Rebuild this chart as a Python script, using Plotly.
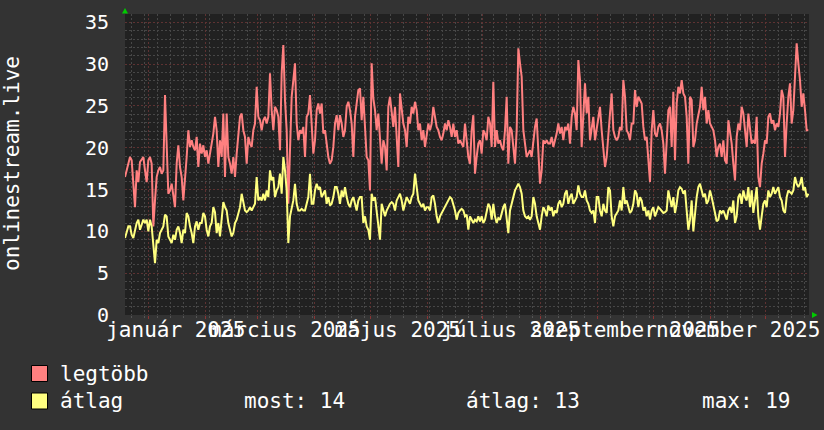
import plotly.graph_objects as go
import pandas as pd

# ---- data ----
legtobb = [
    16.5, 17.3, 18.3, 18.9, 18.5, 15.3, 12.9, 17.3, 15.9, 18.3, 18.7, 18.9, 17.3, 15.9, 18.5, 18.9, 18.1, 10.6, 13.7, 16.5,
    17.3, 17.7, 16.9, 17.3, 26.3, 20.9, 14.5, 14.9, 15.7, 14.3, 12.9, 18.1, 20.3, 17.7, 16.5, 13.7, 16.1, 18.9, 22.1, 20.1,
    20.9, 20.1, 19.7, 21.3, 17.7, 20.5, 19.3, 20.3, 18.9, 19.7, 18.1, 19.1, 20.5, 21.7, 23.7, 22.1, 17.7, 20.9, 18.9, 24.1,
    16.5, 24.1, 18.9, 18.1, 16.9, 18.9, 16.5, 19.3, 22.1, 23.7, 24.1, 22.1, 21.3, 18.1, 21.3, 20.5, 20.1, 22.1, 22.9, 27.3,
    23.7, 23.3, 22.1, 23.3, 23.7, 22.9, 23.7, 28.9, 24.5, 22.1, 24.9, 24.5, 23.7, 19.7, 28.9, 32.3, 25.7, 22.1, 13.3,
    20.1, 26.1, 28.1, 30.1, 22.9, 20.9, 22.1, 21.7, 22.5, 18.9, 23.7, 24.1, 26.3, 22.1, 19.3, 20.9, 24.5, 25.3, 24.1, 25.3,
    21.7, 22.1, 20.5, 18.9, 18.1, 18.5, 20.1, 22.9, 23.9, 22.1, 23.9, 22.9, 21.3, 22.1, 24.9, 25.5, 24.5, 22.9, 18.9, 23.7,
    25.3, 26.9, 27.1, 23.3, 26.1, 22.5, 18.9, 18.5, 14.9, 30.1, 25.9, 24.5, 22.1, 24.1, 21.1, 18.1, 20.9, 20.1, 17.3, 24.9,
    26.1, 24.1, 22.5, 24.9, 20.5, 17.7, 26.5, 24.5, 22.9, 22.1, 20.1, 23.7, 22.9, 24.9, 24.1, 25.5, 24.5, 22.1, 22.9, 20.9,
    22.1, 20.1, 21.7, 22.9, 22.1, 22.9, 24.9, 23.7, 22.5, 22.1, 21.3, 20.9, 21.7, 22.9, 22.1, 23.3, 22.5, 21.3, 22.9, 21.3,
    22.1, 20.5,
    20.9, 20.5, 20.1, 22.9, 20.9, 18.9, 18.1, 22.1, 23.9, 16.9, 18.9, 20.5, 20.9, 19.3, 22.1, 21.7, 20.9, 23.7, 22.9, 20.1,
    27.9, 20.1, 22.1, 20.5, 20.9, 20.1, 19.7, 22.1, 26.1, 18.1, 22.5, 22.1, 20.1, 18.1, 22.1, 31.9, 30.1, 28.5, 22.1, 20.1,
    18.9, 19.3, 19.7, 18.9, 20.9, 22.5, 23.5, 20.1, 15.7, 17.3, 20.9, 20.5, 20.9, 20.5, 20.5, 21.3, 20.1, 20.9, 21.7, 22.9,
    21.7, 22.5, 20.9, 22.5, 22.1, 22.9, 20.5, 23.7, 24.9, 24.1, 22.1, 30.5, 28.1, 20.1, 24.1, 27.7, 24.1, 26.1, 20.9, 22.1,
    23.7, 20.9, 22.1, 23.7, 24.9, 22.1, 19.7, 17.7, 18.9, 22.1, 24.1, 26.5, 22.1, 21.3, 20.9, 21.3, 22.5, 22.1, 28.1, 26.1,
    22.1, 21.7,
    20.9, 22.9, 22.9, 26.9, 24.9, 26.1, 25.7, 25.3, 22.5, 20.9, 21.3, 18.1, 15.9, 22.1, 24.5, 21.7, 21.3, 22.5, 22.9, 22.1,
    20.5, 16.9, 20.9, 24.5, 24.9, 20.1, 26.7, 18.5, 25.3, 27.3, 26.5, 28.1, 26.5, 26.1, 23.7, 18.1, 26.1, 25.7, 20.1, 20.9,
    22.9, 24.1, 24.9, 27.3, 24.5, 26.1, 22.9, 24.5, 22.9, 22.5, 22.1, 20.9, 18.9, 20.1, 20.5, 18.9, 20.9, 18.5, 18.1, 23.3,
    22.1, 20.5, 18.1, 16.1, 21.3, 22.9, 22.1, 24.9, 24.1, 22.1, 20.1, 24.1, 22.1, 20.5, 20.9, 20.5, 23.7, 16.5, 15.3, 18.1,
    19.3, 20.9, 20.5, 23.7, 24.1, 22.9, 23.3, 22.1, 22.9, 22.5, 24.1, 26.9, 26.1, 18.9, 22.9, 26.1, 27.7, 22.9, 24.5, 28.5,
    32.5, 30.1, 28.1, 24.9, 26.5, 24.5, 22.1, 22.1,
]

atlag = [
    9.2, 9.8, 10.6, 10.6, 9.6, 9.2, 10.0, 11.0, 11.4, 10.2, 10.8, 11.4, 11.0, 11.4, 10.0, 11.4, 10.6, 8.6, 6.2, 9.0,
    8.6, 9.8, 10.2, 10.6, 12.0, 11.8, 9.4, 9.0, 8.6, 9.6, 9.0, 10.2, 10.6, 9.8, 8.6, 10.2, 9.8, 12.2, 11.8, 10.6,
    9.8, 8.6, 10.6, 11.2, 10.2, 11.0, 11.0, 12.2, 11.8, 10.2, 9.4, 10.6, 11.0, 12.9, 12.3, 9.8, 11.0, 9.4, 11.8, 13.5,
    12.9, 12.5, 11.0, 10.2, 9.4, 9.8, 11.0, 11.4, 12.2, 12.9, 14.5, 13.3, 12.5, 12.3, 12.5, 12.9, 12.5, 12.9, 13.3, 16.5,
    13.7, 14.1, 13.7, 14.5, 13.7, 14.9, 14.1, 17.3, 16.1, 16.5, 14.1, 14.9, 15.3, 16.9, 14.5, 18.9, 17.3, 14.9, 8.6,
    11.8, 12.9, 13.7, 15.7, 13.3, 12.5, 12.5, 12.7, 12.5, 12.5, 13.3, 14.1, 16.9, 13.3, 13.3, 14.9, 15.7, 15.1, 15.3, 14.1,
    14.5, 14.9, 13.3, 14.1, 13.1, 13.3, 14.1, 15.3, 15.3, 14.5, 13.3, 14.9, 14.1, 15.3, 14.1, 13.3, 12.9, 13.7, 14.1, 13.3,
    12.5, 13.7, 14.1, 14.1, 11.0, 11.8, 10.6, 10.2, 9.0, 14.5, 13.7, 14.1, 12.5, 10.2, 9.0, 13.3, 12.5, 11.8, 12.5, 12.9,
    13.3, 13.5, 13.3, 12.5, 13.7, 14.1, 14.5, 13.7, 12.5, 13.3, 14.1, 13.7, 13.3, 14.1, 14.5, 16.9, 14.9, 13.7, 13.3, 12.9,
    13.3, 12.5, 12.9, 12.9, 12.5, 14.1, 14.3, 13.3, 11.8, 11.0, 11.8, 12.2, 12.5, 12.9, 13.5, 13.7, 14.1, 13.9, 13.3, 12.5,
    11.4, 12.2,
    12.5, 12.7, 12.5, 11.8, 12.0, 10.2, 11.8, 11.4, 11.0, 11.4, 11.2, 11.8, 11.2, 11.8, 11.0, 11.4, 12.2, 13.3, 12.9, 11.4,
    13.3, 11.8, 11.0, 11.6, 11.4, 12.2, 12.9, 13.3, 11.4, 9.8, 12.5, 13.3, 14.1, 14.9, 15.3, 15.7, 15.3, 14.5, 12.5, 11.8,
    11.6, 11.8, 11.4, 11.8, 14.1, 13.3, 11.8, 11.0, 10.2, 11.8, 12.9, 12.5, 11.8, 13.1, 12.5, 12.9, 11.8, 12.5, 12.2, 13.3,
    13.7, 12.9, 13.3, 14.5, 14.9, 13.3, 14.1, 14.5, 13.3, 13.7, 14.1, 15.5, 14.5, 14.1, 14.1, 14.9, 13.7, 13.3, 12.5, 12.2,
    12.5, 11.0, 14.1, 14.1, 12.5, 11.8, 13.3, 12.5, 12.2, 15.3, 14.9, 11.8, 10.6, 11.8, 12.2, 12.5, 13.7, 12.5, 15.3, 13.3,
    13.7, 12.9,
    12.2, 12.5, 13.3, 14.9, 14.5, 12.9, 14.1, 13.7, 12.5, 12.9, 11.8, 12.5, 11.4, 12.5, 12.9, 11.8, 12.3, 12.9, 12.7, 12.5,
    12.2, 12.3, 12.5, 14.9, 13.7, 12.9, 14.1, 12.2, 13.3, 14.9, 15.3, 15.1, 14.5, 14.9, 12.5, 10.2, 11.4, 13.7, 10.0, 12.2,
    14.1, 15.3, 15.7, 14.9, 14.1, 14.5, 13.3, 13.7, 14.9, 14.1, 13.3, 12.2, 11.2, 11.4, 12.5, 12.2, 12.5, 11.8, 11.4, 12.5,
    12.9, 12.2, 13.7, 11.0, 11.8, 14.1, 14.5, 13.3, 14.9, 14.1, 13.7, 15.3, 12.9, 14.9, 12.2, 13.7, 15.3, 11.8, 10.2, 11.8,
    13.3, 13.7, 12.9, 14.9, 14.1, 14.5, 15.3, 14.5, 14.9, 15.3, 14.1, 13.7, 12.5, 12.2, 14.1, 14.9, 14.7, 14.5, 14.9, 16.5,
    15.7, 15.3, 15.7, 16.5, 14.9, 15.3, 14.1, 14.5,
]

series_start = "2024-12-19 13:40"
series_step = "77838s"          # time between consolidated samples
axis_end = "2025-12-24 07:10"

tick_dates = ["2025-01-16", "2025-03-16", "2025-05-16", "2025-07-16", "2025-09-16", "2025-11-16"]
tick_labels = ["január 2025", "március 2025", "május 2025", "július 2025", "szeptember 2025", "november 2025"]

y_title = "onlinestream.live"
name_max = "legtöbb"
name_avg = "átlag"

times = pd.date_range(start=series_start, periods=len(legtobb), freq=series_step)

FONT = "DejaVu Sans Mono"
BG = "#333333"
CANVAS = "#212121"
RED = "#ff8080"
YEL = "#ffff80"
MGRID = "#5e3232"
GRID = "#474747"

fig = go.Figure()
fig.add_trace(go.Scatter(x=times, y=legtobb, mode="lines", name=name_max,
                         line=dict(color=RED, width=2), xaxis="x", yaxis="y"))
fig.add_trace(go.Scatter(x=times, y=atlag, mode="lines", name=name_avg,
                         line=dict(color=YEL, width=2), xaxis="x2", yaxis="y"))

xrange = [series_start, axis_end]

fig.update_layout(
    width=824, height=430,
    margin=dict(l=125, r=15, t=14, b=115, autoexpand=False),
    paper_bgcolor=BG, plot_bgcolor=CANVAS,
    showlegend=False,
    font=dict(family=FONT, color="#ffffff", size=21),
    xaxis=dict(
        type="date", range=xrange, automargin=False,
        showticklabels=False,
        showgrid=True, gridcolor=MGRID, griddash="2px,2px", gridwidth=1,
        tick0="2025-01-01", dtick="M1",
        ticks="outside", ticklen=3, tickcolor="#8a3434",
        minor=dict(showgrid=True, gridcolor=GRID, griddash="2px,2px", gridwidth=1,
                   tick0="2024-12-30", dtick=7 * 86400000,
                   ticks="outside", ticklen=2, tickcolor="#555555"),
        zeroline=False, showline=False,
    ),
    xaxis2=dict(
        type="date", range=xrange, overlaying="x", side="bottom", automargin=False,
        tickmode="array", tickvals=tick_dates, ticktext=tick_labels, tickangle=0,
        showgrid=False, ticks="", zeroline=False, showline=False,
        tickfont=dict(family=FONT, size=21, color="#ffffff"),
    ),
    yaxis=dict(
        range=[0, 36], tick0=0, dtick=5, automargin=False,
        showgrid=True, gridcolor=MGRID, griddash="2px,2px", gridwidth=1,
        minor=dict(showgrid=True, gridcolor=GRID, griddash="2px,2px", gridwidth=1, dtick=1),
        zeroline=False, showline=False,
        tickfont=dict(family=FONT, size=20, color="#ffffff"),
        ticklabelstandoff=15,
    ),
)

def px(X):
    return (X - 125) / 684.0

def py(Y):
    return (315 - Y) / 301.0

# y axis title
fig.add_annotation(text=y_title, xref="paper", yref="paper", x=px(12), y=py(164),
                   textangle=-90, showarrow=False, xanchor="center", yanchor="middle",
                   font=dict(family=FONT, size=21, color="#ffffff"))

# legend
last_avg = atlag[-1]
mean_avg = sum(atlag) / len(atlag)
max_avg = max(atlag)
legend_rows = [
    (name_max, RED, 373.5, []),
    (name_avg, YEL, 401, [(242, f"most: {last_avg:.0f}"), (464, f"átlag: {mean_avg:.0f}"), (700, f"max: {max_avg:.0f}")]),
]
for name, col, yc, extra in legend_rows:
    fig.add_shape(type="rect", xref="paper", yref="paper",
                  x0=px(31.5), x1=px(47.5), y0=py(yc + 8), y1=py(yc - 8),
                  fillcolor=col, line=dict(color="#000000", width=1))
    fig.add_annotation(text=name, xref="paper", yref="paper", x=px(58), y=py(yc),
                       showarrow=False, xanchor="left", yanchor="middle",
                       font=dict(family=FONT, size=21, color="#ffffff"))
    for xx, txt in extra:
        fig.add_annotation(text=txt, xref="paper", yref="paper", x=px(xx), y=py(yc),
                           showarrow=False, xanchor="left", yanchor="middle",
                           font=dict(family=FONT, size=21, color="#ffffff"))

# axis arrows
fig.add_shape(type="path", xref="paper", yref="paper",
              path=f"M {px(122)},{py(13.5)} L {px(128)},{py(13.5)} L {px(125)},{py(8)} Z",
              fillcolor="#00cc00", line=dict(color="#00cc00", width=0))
fig.add_shape(type="path", xref="paper", yref="paper",
              path=f"M {px(812)},{py(312)} L {px(812)},{py(318)} L {px(817.5)},{py(315)} Z",
              fillcolor="#00cc00", line=dict(color="#00cc00", width=0))

fig.write_html("out.html",
               config={"displayModeBar": False},
               post_script="document.body.style.margin='0px';document.body.style.background='#333333';")
